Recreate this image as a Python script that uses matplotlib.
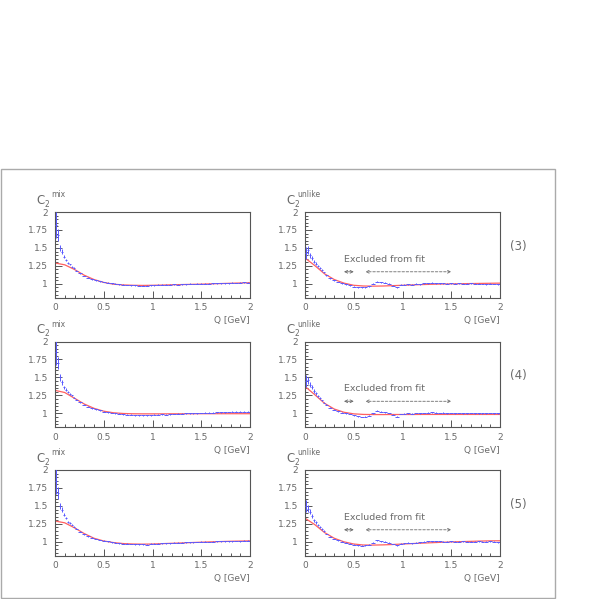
import numpy as np
import matplotlib
matplotlib.use('Agg')
import matplotlib.pyplot as plt
from matplotlib.patches import Rectangle
from matplotlib.ticker import MultipleLocator, FuncFormatter

# Q binning: 0.02 GeV bins below 0.2, then 0.04 GeV bins
q_edges = np.concatenate([np.linspace(0.0, 0.2, 11)[:-1], np.linspace(0.2, 2.0, 46)])
q_centers = 0.5 * (q_edges[1:] + q_edges[:-1])
q_half = 0.5 * np.diff(q_edges)

# fit curve sampling
fit_q = [0.0, 0.1, 0.2, 0.3, 0.4, 0.5, 0.6, 0.7, 0.8, 0.9, 1.0,
         1.1, 1.2, 1.3, 1.4, 1.5, 1.6, 1.7, 1.8, 1.9, 2.0]

row_labels = ["(3)", "(4)", "(5)"]

# ---- C2 mix (left column) ----
c2_mix_3 = [1.82, 1.68, 1.50, 1.45, 1.38, 1.33, 1.29, 1.27, 1.24, 1.22,
            1.185, 1.145, 1.11, 1.085, 1.065, 1.05, 1.035, 1.025, 1.015, 1.005,
            1.0, 0.993, 0.988, 0.984, 0.98, 0.978, 0.975, 0.976, 0.977, 0.98,
            0.982, 0.985, 0.99, 0.986, 0.99, 0.992, 0.99, 0.995, 0.996, 1.0,
            0.998, 1.0, 1.002, 1.004, 1.0, 1.005, 1.006, 1.008, 1.01, 1.01,
            1.015, 1.012, 1.016, 1.02, 1.018]
c2_mix_4 = [1.85, 1.70, 1.50, 1.43, 1.36, 1.33, 1.30, 1.27, 1.25, 1.22,
            1.19, 1.155, 1.12, 1.095, 1.07, 1.055, 1.04, 1.025, 1.015, 1.005,
            1.0, 0.993, 0.985, 0.98, 0.978, 0.975, 0.972, 0.973, 0.975, 0.975,
            0.978, 0.98, 0.985, 0.983, 0.988, 0.99, 0.992, 0.995, 1.0, 1.0,
            1.003, 1.002, 1.005, 1.008, 1.006, 1.01, 1.012, 1.015, 1.015, 1.018,
            1.02, 1.02, 1.022, 1.025, 1.025]
c2_mix_5 = [1.85, 1.68, 1.50, 1.45, 1.38, 1.33, 1.28, 1.26, 1.24, 1.21,
            1.18, 1.14, 1.105, 1.08, 1.06, 1.04, 1.025, 1.015, 1.005, 0.995,
            0.99, 0.982, 0.976, 0.972, 0.97, 0.968, 0.968, 0.968, 0.962, 0.972,
            0.975, 0.973, 0.978, 0.978, 0.982, 0.985, 0.986, 0.99, 0.992, 0.995,
            0.994, 0.998, 1.0, 1.002, 0.998, 1.003, 1.005, 1.006, 1.005, 1.008,
            1.01, 1.012, 1.01, 1.015, 1.015]
err_mix = [0.18, 0.08, 0.045, 0.03, 0.022, 0.018, 0.015, 0.012, 0.01, 0.01] + [0.006] * 45

fit_mix_3 = [1.29, 1.265, 1.20, 1.12, 1.06, 1.02, 0.995, 0.985, 0.98, 0.978, 0.98,
             0.983, 0.987, 0.99, 0.993, 0.996, 1.0, 1.004, 1.008, 1.012, 1.016]
fit_mix_4 = [1.32, 1.29, 1.21, 1.13, 1.07, 1.03, 1.008, 0.998, 0.994, 0.993, 0.993,
             0.993, 0.994, 0.994, 0.994, 0.995, 0.995, 0.995, 0.995, 0.995, 0.995]
fit_mix_5 = [1.29, 1.265, 1.195, 1.115, 1.05, 1.012, 0.99, 0.976, 0.97, 0.968, 0.97,
             0.975, 0.98, 0.985, 0.99, 0.995, 1.0, 1.004, 1.008, 1.011, 1.014]

# ---- C2 unlike (right column) ----
c2_unlike_3 = [1.43, 1.47, 1.40, 1.36, 1.31, 1.28, 1.25, 1.22, 1.19, 1.16,
               1.12, 1.08, 1.05, 1.025, 1.005, 0.995, 0.98, 0.962, 0.955, 0.955,
               0.955, 0.965, 1.0, 1.03, 1.02, 1.015, 1.0, 0.975, 0.955, 0.99,
               0.99, 0.995, 0.99, 1.0, 0.995, 1.005, 1.01, 1.015, 1.01, 1.008,
               1.005, 1.0, 1.005, 1.0, 1.005, 1.0, 1.003, 1.005, 1.0, 1.002,
               0.998, 0.995, 1.003, 0.998, 0.995]
c2_unlike_4 = [1.45, 1.46, 1.40, 1.36, 1.31, 1.28, 1.24, 1.21, 1.18, 1.15,
               1.12, 1.08, 1.05, 1.03, 1.01, 1.0, 0.99, 0.975, 0.96, 0.95,
               0.952, 0.965, 1.0, 1.035, 1.025, 1.015, 1.005, 0.98, 0.955, 0.99,
               0.995, 1.0, 0.995, 1.005, 1.0, 1.005, 1.01, 1.012, 1.008, 1.005,
               1.008, 1.003, 1.005, 1.002, 1.005, 1.003, 1.0, 1.005, 1.002, 1.0,
               1.003, 1.0, 1.005, 1.0, 1.0]
c2_unlike_5 = [1.50, 1.46, 1.42, 1.36, 1.30, 1.27, 1.24, 1.21, 1.18, 1.15,
               1.11, 1.07, 1.04, 1.02, 1.0, 0.985, 0.975, 0.96, 0.95, 0.948,
               0.95, 0.96, 0.99, 1.02, 1.01, 1.0, 0.99, 0.97, 0.95, 0.975,
               0.98, 0.985, 0.98, 0.99, 0.995, 1.0, 1.005, 1.01, 1.005, 1.008,
               1.003, 1.0, 1.005, 1.003, 1.0, 1.005, 1.003, 1.0, 1.002, 1.005,
               1.0, 1.003, 1.008, 1.0, 0.995]
err_unlike = [0.08, 0.05, 0.035, 0.028, 0.022, 0.018, 0.015, 0.012, 0.01, 0.01] + [0.006] * 45

fit_unlike_3 = [1.36, 1.255, 1.14, 1.06, 1.01, 0.98, 0.97, 0.968, 0.97, 0.975, 0.98,
                0.985, 0.99, 0.994, 0.997, 1.0, 1.002, 1.004, 1.006, 1.008, 1.01]
fit_unlike_4 = [1.375, 1.26, 1.14, 1.06, 1.015, 0.993, 0.985, 0.983, 0.983, 0.984, 0.984,
                0.984, 0.985, 0.985, 0.985, 0.985, 0.985, 0.985, 0.985, 0.985, 0.985]
fit_unlike_5 = [1.33, 1.24, 1.13, 1.05, 1.0, 0.97, 0.956, 0.955, 0.958, 0.963, 0.97,
                0.976, 0.982, 0.988, 0.994, 0.999, 1.003, 1.007, 1.011, 1.014, 1.015]

# excluded-from-fit ranges (GeV)
excl_short = (0.4, 0.5)
excl_long = (0.62, 1.5)

BLUE = '#5a5aff'
RED = '#ff6060'
TEXT = '#6a6a6a'
AXIS = '#555555'
FONT = 'DejaVu Sans'

W = 599.0
fig = plt.figure(figsize=(5.99, 5.99), dpi=100)

# outer frame
fig.patches.append(Rectangle((1 / W, 1 - 598 / W), 554 / W, 429 / W,
                             transform=fig.transFigure, fill=False,
                             edgecolor='#aaaaaa', linewidth=1.0))

col_left = [55 / W, 305 / W]
ax_w = 195 / W
ax_h = 85.5 / W
row_bottom = [1 - 297.5 / W, 1 - 427 / W, 1 - 555.5 / W]


def style_axes(ax):
    ax.set_xlim(0, 2)
    ax.set_ylim(0.81, 2.0)
    ax.xaxis.set_major_locator(MultipleLocator(0.5))
    ax.xaxis.set_minor_locator(MultipleLocator(0.1))
    ax.yaxis.set_major_locator(MultipleLocator(0.25))
    ax.yaxis.set_minor_locator(MultipleLocator(0.05))
    fmt = FuncFormatter(lambda v, p: '%g' % v)
    ax.xaxis.set_major_formatter(fmt)
    ax.yaxis.set_major_formatter(fmt)
    ax.tick_params(which='both', direction='in', top=False, right=False,
                   color=AXIS, width=0.7, labelcolor=TEXT, labelsize=6.5)
    ax.tick_params(which='major', length=5)
    ax.tick_params(which='minor', length=2.5)
    ax.tick_params(axis='x', pad=4)
    ax.tick_params(axis='y', pad=5)
    for lab in ax.get_xticklabels() + ax.get_yticklabels():
        lab.set_family(FONT)
    for s in ax.spines.values():
        s.set_color(AXIS)
        s.set_linewidth(0.8)
    ax.text(1.0, -0.27, 'Q [GeV]', transform=ax.transAxes, ha='right', va='center',
            fontsize=6.5, color=TEXT, family=FONT)


def c2_label(ax, sup, sup_x):
    ax.text(-0.095, 1.06, 'C', transform=ax.transAxes, ha='left', va='bottom',
            fontsize=8.5, color=TEXT, family=FONT)
    ax.text(-0.055, 1.04, '2', transform=ax.transAxes, ha='left', va='bottom',
            fontsize=5.5, color=TEXT, family=FONT)
    ax.text(sup_x, 1.15, sup, transform=ax.transAxes, ha='left', va='bottom',
            fontsize=5.5, color=TEXT, family=FONT)


mix_rows = [(c2_mix_3, fit_mix_3), (c2_mix_4, fit_mix_4), (c2_mix_5, fit_mix_5)]
unlike_rows = [(c2_unlike_3, fit_unlike_3), (c2_unlike_4, fit_unlike_4),
               (c2_unlike_5, fit_unlike_5)]

for r in range(3):
    # left: mixed-event reference
    ax = fig.add_axes([col_left[0], row_bottom[r], ax_w, ax_h])
    style_axes(ax)
    c2, fit = mix_rows[r]
    ax.plot(fit_q, fit, color=RED, lw=0.9, zorder=2)
    ax.errorbar(q_centers, c2, xerr=q_half, yerr=err_mix, fmt='none',
                ecolor=BLUE, elinewidth=0.7, zorder=3)
    c2_label(ax, 'mix', -0.02)

    # right: unlike-sign reference
    ax = fig.add_axes([col_left[1], row_bottom[r], ax_w, ax_h])
    style_axes(ax)
    c2, fit = unlike_rows[r]
    ax.plot(fit_q, fit, color=RED, lw=0.9, zorder=2)
    ax.errorbar(q_centers, c2, xerr=q_half, yerr=err_unlike, fmt='none',
                ecolor=BLUE, elinewidth=0.7, zorder=3)
    c2_label(ax, 'unlike', -0.04)

    ax.text(0.405, 1.345, 'Excluded from fit', ha='left', va='center',
            fontsize=6.8, color=TEXT, family=FONT)
    ax.annotate('', xy=(excl_short[0], 1.168), xytext=(excl_short[1], 1.168),
                arrowprops=dict(arrowstyle='<->', color=TEXT, lw=0.6,
                                shrinkA=0, shrinkB=0, mutation_scale=5))
    ax.annotate('', xy=(excl_long[0], 1.168), xytext=(excl_long[1], 1.168),
                arrowprops=dict(arrowstyle='<->', color=TEXT, lw=0.6, linestyle=(0, (3, 2)),
                                shrinkA=0, shrinkB=0, mutation_scale=5))

    # row tag on the right
    yc = row_bottom[r] + ax_h * 0.6
    fig.text(518 / W, yc, row_labels[r], ha='center', va='center',
             fontsize=8.5, color=TEXT, family=FONT)

fig.savefig('out.png', dpi=100)
